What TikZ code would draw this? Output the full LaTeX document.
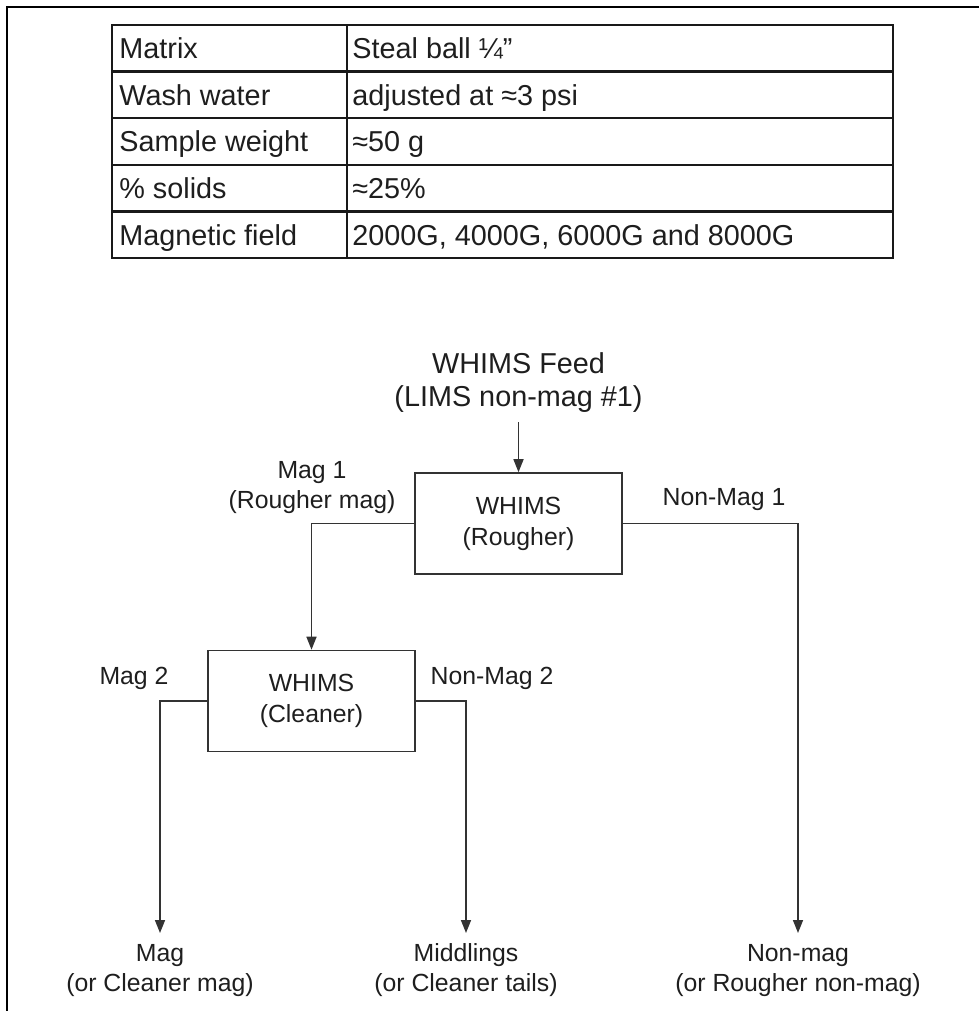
\documentclass[tikz,border=0pt]{standalone}
\usepackage{fontspec}
\setmainfont{Liberation Sans}
\usepackage{tikz}
\usetikzlibrary{arrows.meta}
\definecolor{linegray}{RGB}{51, 51, 51}
\definecolor{textdark}{RGB}{30, 30, 30}
\newcommand{\tablefont}{\fontsize{14.4}{16}\selectfont}
\newcommand{\flowfont}{\fontsize{12.4}{15}\selectfont}
\tikzset{
  >=Triangle,
  flowarrow/.style={-{Triangle[length=6.5pt, width=5pt]}, line width=0.8pt, linegray},
  tablerule/.style={line width=1.1pt, black!90},
  tablecell/.style={anchor=west, inner sep=0pt, text height=10.3pt, text depth=0pt, font=\tablefont, text=textdark},
  unitbox/.style={rectangle, draw=linegray, line width=0.8pt, minimum width=103.5pt, minimum height=50.5pt, align=center, inner sep=0pt, font=\fontsize{12.4}{15.5}\selectfont, text=textdark},
  streamlabel/.style={align=center, inner sep=0pt, font=\flowfont, text=textdark},
  productlabel/.style={anchor=north, align=center, inner sep=0pt, outer sep=5.5pt, font=\flowfont, text=textdark}
}

\begin{document}
\begin{tikzpicture}[x=0.5pt, y=-0.5pt]
    \useasboundingbox (0,0) rectangle (979,1011);

    % Page frame (left and top edges)
    \draw[line width=1pt] (7,1011) -- (7,7) -- (979,7);

    % Test conditions table
    \draw[tablerule] (112,25) rectangle (893,258);
    \draw[tablerule] (347,25) -- (347,258);
    \foreach \y in {71.6, 118.2, 164.8, 211.4}
        \draw[tablerule] (112,\y) -- (893,\y);
    \foreach \key/\val [count=\i] in {Matrix/{Steal ball ¼\symbol{34}}, Wash water/{adjusted at ≈3 psi}, Sample weight/{≈50 g}, \% solids/{≈25\%}, Magnetic field/{2000G, 4000G, 6000G and 8000G}}
    {
        \node[tablecell] (key\i) at (119, {48.3+46.6*(\i-1)}) {\key};
        \node[tablecell] (val\i) at (352, {48.3+46.6*(\i-1)}) {\val};
    }

    % Feed
    \node[align=center, inner sep=0pt, font=\fontsize{14.4}{16.5}\selectfont, text=textdark, anchor=south, outer sep=5pt] (feed) at (518.5,422) {WHIMS Feed\\(LIMS non-mag \#1)};

    % WHIMS stages
    \node[unitbox] (rougher) at (518.5,523.5) {WHIMS\\(Rougher)};
    \node[unitbox] (cleaner) at (311.5,701) {WHIMS\\(Cleaner)};

    % Products
    \node[productlabel] (mag) at (160,933) {Mag\\(or Cleaner mag)};
    \node[productlabel] (middlings) at (466,933) {Middlings\\(or Cleaner tails)};
    \node[productlabel] (nonmag) at (798,933) {Non-mag\\(or Rougher non-mag)};

    % Stream labels
    \node[streamlabel] (mag1) at (312,488) {Mag 1\\(Rougher mag)};
    \node[streamlabel] (nonmag1) at (724,500) {Non-Mag 1};
    \node[streamlabel] (mag2) at (134,678) {Mag 2};
    \node[streamlabel] (nonmag2) at (492,678) {Non-Mag 2};

    % Streams
    \draw[flowarrow] (feed.south) -- (rougher.north);
    \draw[flowarrow] (rougher.west) -| (cleaner.north);
    \draw[flowarrow] (rougher.east) -| (nonmag.north);
    \draw[flowarrow] (cleaner.west) -| (mag.north);
    \draw[flowarrow] (cleaner.east) -| (middlings.north);
\end{tikzpicture}
\end{document}
